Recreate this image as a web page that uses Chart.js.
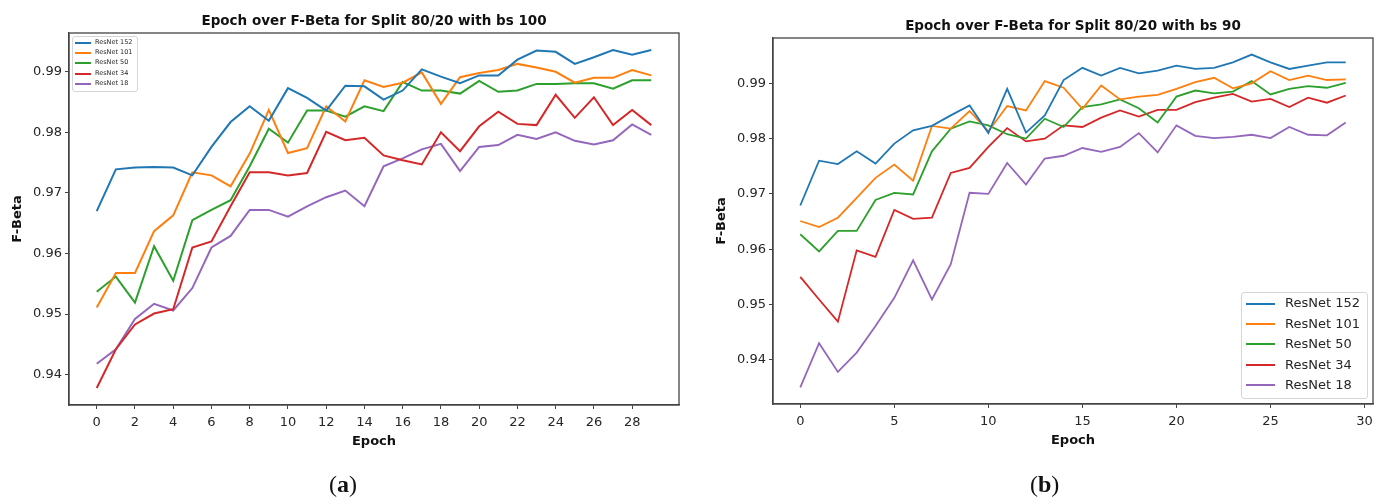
<!DOCTYPE html>
<html>
<head>
<meta charset="utf-8">
<script src="https://cdn.jsdelivr.net/npm/chart.js@4"></script>
<style>
body { margin: 0; background: #fff; width: 1386px; height: 497px; overflow: hidden; position: relative; font-family: "DejaVu Sans", sans-serif; }
canvas { position: absolute; top: 0; }
#chartA { left: 0; }
#chartB { left: 696px; }
.legend { position: absolute; background: rgba(255,255,255,0.85); border: 1px solid #d6d6d6; border-radius: 3px; color: #262626; }
.legend .swatch { position: absolute; }
.legend .txt { position: absolute; white-space: nowrap; }
.caption { position: absolute; top: 471px; font-family: "Liberation Serif", serif; font-size: 24px; color: #111; }
.caption b { font-weight: bold; }
</style>
</head>
<body>
<canvas id="chartA" width="690" height="497"></canvas>
<canvas id="chartB" width="690" height="497"></canvas>
<div id="legendA" class="legend" style="left:72px; top:36px; width:64px; height:54px;"></div>
<div id="legendB" class="legend" style="left:1241px; top:292px; width:125px; height:105px;"></div>
<div class="caption" style="left:329px;">(<b>a</b>)</div>
<div class="caption" style="left:1030px;">(<b>b</b>)</div>
<script>
// series
var epochs = [0, 1, 2, 3, 4, 5, 6, 7, 8, 9, 10, 11, 12, 13, 14, 15, 16, 17, 18, 19, 20, 21, 22, 23, 24, 25, 26, 27, 28, 29];
var seriesNames = ["ResNet 152", "ResNet 101", "ResNet 50", "ResNet 34", "ResNet 18"];

var xTicksA = [0, 2, 4, 6, 8, 10, 12, 14, 16, 18, 20, 22, 24, 26, 28];
var xTicksB = [0, 5, 10, 15, 20, 25, 30];
var yTicks = [0.94, 0.95, 0.96, 0.97, 0.98, 0.99];

// (a) bs 100
var a152 = [0.9670, 0.9739, 0.9742, 0.9743, 0.9742, 0.9729, 0.9776, 0.9817, 0.9843, 0.9819, 0.9873, 0.9857, 0.9836, 0.9877, 0.9876, 0.9854, 0.9869, 0.9904, 0.9892, 0.9881, 0.9894, 0.9894, 0.9920, 0.9935, 0.9933, 0.9913, 0.9924, 0.9936, 0.9928, 0.9936];
var a101 = [0.9511, 0.9568, 0.9568, 0.9637, 0.9663, 0.9734, 0.9729, 0.9711, 0.9765, 0.9837, 0.9766, 0.9774, 0.9843, 0.9818, 0.9886, 0.9875, 0.9882, 0.9899, 0.9847, 0.9891, 0.9898, 0.9903, 0.9913, 0.9907, 0.9900, 0.9882, 0.9890, 0.9890, 0.9903, 0.9894];
var a50 = [0.9537, 0.9562, 0.9519, 0.9612, 0.9555, 0.9655, 0.9672, 0.9688, 0.9744, 0.9806, 0.9783, 0.9836, 0.9836, 0.9826, 0.9843, 0.9835, 0.9883, 0.9869, 0.9869, 0.9864, 0.9885, 0.9867, 0.9869, 0.9880, 0.9880, 0.9881, 0.9881, 0.9872, 0.9886, 0.9886];
var a34 = [0.9378, 0.9442, 0.9483, 0.9501, 0.9508, 0.9610, 0.9620, 0.9678, 0.9734, 0.9734, 0.9729, 0.9733, 0.9801, 0.9787, 0.9791, 0.9762, 0.9754, 0.9747, 0.9800, 0.9769, 0.9810, 0.9834, 0.9814, 0.9812, 0.9862, 0.9824, 0.9858, 0.9812, 0.9837, 0.9812];
var a18 = [0.9418, 0.9442, 0.9492, 0.9517, 0.9506, 0.9543, 0.9610, 0.9629, 0.9672, 0.9672, 0.9661, 0.9678, 0.9693, 0.9704, 0.9678, 0.9744, 0.9757, 0.9772, 0.9781, 0.9736, 0.9776, 0.9779, 0.9796, 0.9789, 0.9800, 0.9786, 0.9780, 0.9787, 0.9813, 0.9796];

// (b) bs 90
var b152 = [0.9679, 0.9760, 0.9754, 0.9777, 0.9755, 0.9791, 0.9815, 0.9823, 0.9842, 0.9860, 0.9810, 0.9890, 0.9811, 0.9842, 0.9906, 0.9928, 0.9914, 0.9928, 0.9918, 0.9923, 0.9932, 0.9926, 0.9928, 0.9938, 0.9952, 0.9938, 0.9926, 0.9932, 0.9938, 0.9938];
var b101 = [0.9651, 0.9640, 0.9657, 0.9693, 0.9729, 0.9753, 0.9724, 0.9823, 0.9818, 0.9850, 0.9813, 0.9859, 0.9851, 0.9904, 0.9892, 0.9854, 0.9896, 0.9871, 0.9876, 0.9879, 0.9890, 0.9902, 0.9910, 0.9891, 0.9900, 0.9922, 0.9906, 0.9914, 0.9906, 0.9907];
var b50 = [0.9627, 0.9596, 0.9633, 0.9633, 0.9689, 0.9702, 0.9699, 0.9777, 0.9818, 0.9831, 0.9824, 0.9808, 0.9800, 0.9836, 0.9821, 0.9857, 0.9862, 0.9871, 0.9855, 0.9829, 0.9876, 0.9887, 0.9882, 0.9885, 0.9904, 0.9880, 0.9890, 0.9895, 0.9892, 0.9901];
var b34 = [0.9550, 0.9509, 0.9469, 0.9598, 0.9586, 0.9671, 0.9655, 0.9657, 0.9738, 0.9747, 0.9785, 0.9819, 0.9795, 0.9800, 0.9824, 0.9821, 0.9838, 0.9851, 0.9840, 0.9852, 0.9852, 0.9866, 0.9874, 0.9881, 0.9867, 0.9872, 0.9857, 0.9874, 0.9865, 0.9878];
var b18 = [0.9350, 0.9430, 0.9378, 0.9413, 0.9461, 0.9512, 0.9580, 0.9509, 0.9573, 0.9702, 0.9700, 0.9756, 0.9717, 0.9764, 0.9769, 0.9783, 0.9776, 0.9785, 0.9810, 0.9775, 0.9824, 0.9805, 0.9801, 0.9803, 0.9807, 0.9801, 0.9821, 0.9807, 0.9806, 0.9829];

var seriesColors = ["#1f77b4", "#ff7f0e", "#2ca02c", "#d62728", "#9467bd"];
var textColor = "#262626";
var frameColor = "#444";

// matplotlib draws a box round the axes, chart.js only the axis lines
var framePlugin = {
    id: "frame",
    afterDatasetsDraw: function(chart) {
        var a = chart.chartArea;
        var ctx = chart.ctx;
        ctx.save();
        ctx.strokeStyle = frameColor;
        ctx.lineWidth = 1.3;
        ctx.strokeRect(a.left, a.top, a.right - a.left, a.bottom - a.top);
        ctx.restore();
    }
};

function toPoints(values) {
    var pts = [];
    for (var i = 0; i < values.length; i++) {
        pts.push({x: epochs[i], y: values[i]});
    }
    return pts;
}

function makeChart(canvasId, opt) {
    var datasets = [];
    for (var i = 0; i < opt.series.length; i++) {
        datasets.push({
            label: seriesNames[i],
            data: toPoints(opt.series[i]),
            borderColor: seriesColors[i],
            backgroundColor: seriesColors[i],
            borderWidth: opt.lineWidth,
            pointRadius: 0,
            tension: 0,
            fill: false
        });
    }
    var tickFont = {family: "DejaVu Sans", size: 13};
    var labelFont = {family: "DejaVu Sans", size: 13, weight: "bold"};
    var titleFont = {family: "DejaVu Sans", size: 13.5, weight: "bold"};
    return new Chart(document.getElementById(canvasId), {
        type: "line",
        data: {datasets: datasets},
        options: {
            responsive: false,
            animation: false,
            devicePixelRatio: 1,
            layout: {padding: {left: 0, top: 0, right: opt.padRight, bottom: opt.padBottom}},
            plugins: {
                legend: {display: false},
                tooltip: {enabled: false},
                title: {
                    display: true,
                    text: opt.title,
                    fullSize: false,
                    color: "#111",
                    font: titleFont,
                    padding: {top: opt.titleTop, bottom: opt.titleBottom}
                }
            },
            scales: {
                x: {
                    type: "linear",
                    min: -1.45,
                    max: 30.45,
                    afterBuildTicks: function(scale) {
                        scale.ticks = opt.xTicks.map(function(v) { return {value: v}; });
                    },
                    afterFit: function(scale) { scale.height = opt.xHeight; },
                    grid: {display: true, drawOnChartArea: false, drawTicks: true, tickLength: 4, color: frameColor},
                    border: {display: true, color: frameColor, width: 1.3},
                    ticks: {color: textColor, font: tickFont, padding: 6, maxRotation: 0, autoSkip: false,
                        callback: function(v) { return String(v); }},
                    title: {display: true, text: "Epoch", color: "#111", font: labelFont,
                        padding: {top: 0, bottom: opt.xTitlePad}}
                },
                y: {
                    type: "linear",
                    min: opt.yMin,
                    max: opt.yMax,
                    afterBuildTicks: function(scale) {
                        scale.ticks = yTicks.map(function(v) { return {value: v}; });
                    },
                    afterFit: function(scale) { scale.width = opt.yWidth; },
                    grid: {display: true, drawOnChartArea: false, drawTicks: true, tickLength: 4, color: frameColor},
                    border: {display: true, color: frameColor, width: 1.3},
                    ticks: {color: textColor, font: tickFont, padding: 3,
                        callback: function(v) { return v.toFixed(2); }},
                    title: {display: true, text: "F-Beta", color: "#111", font: labelFont,
                        padding: {top: opt.yTitlePad, bottom: 0}}
                }
            }
        },
        plugins: [framePlugin]
    });
}

function buildLegend(elId, o) {
    var el = document.getElementById(elId);
    var html = "";
    for (var i = 0; i < seriesNames.length; i++) {
        var y = o.firstRow + i * o.rowGap;
        html += "<div class=\"swatch\" style=\"left:" + o.lineLeft + "px;top:" + Math.round(y - o.lineWidth / 2) + "px;width:"
              + o.lineLen + "px;height:" + o.lineWidth + "px;background:" + seriesColors[i] + ";\"></div>";
        html += "<div class=\"txt\" style=\"left:" + o.textLeft + "px;top:" + Math.round(y - o.fontSize * 0.62) + "px;font-size:"
              + o.fontSize + "px;line-height:" + (o.fontSize * 1.2) + "px;\">" + seriesNames[i] + "</div>";
    }
    el.innerHTML = html;
}

makeChart("chartA", {
    series: [a152, a101, a50, a34, a18],
    title: "Epoch over F-Beta for Split 80/20 with bs 100",
    titleTop: 13, titleBottom: 3.8,
    xTicks: xTicksA,
    yMin: 0.9350, yMax: 0.9964,
    padRight: 11, padBottom: 40,
    yWidth: 69, xHeight: 52,
    yTitlePad: 10, xTitlePad: 8,
    lineWidth: 2
});

makeChart("chartB", {
    series: [b152, b101, b50, b34, b18],
    title: "Epoch over F-Beta for Split 80/20 with bs 90",
    titleTop: 18, titleBottom: 3.8,
    xTicks: xTicksB,
    yMin: 0.9320, yMax: 0.9982,
    padRight: 13, padBottom: 41,
    yWidth: 77, xHeight: 52,
    yTitlePad: 18, xTitlePad: 8,
    lineWidth: 1.8
});

buildLegend("legendA", {firstRow: 6, rowGap: 10.2, lineLeft: 2, lineLen: 16, lineWidth: 2, textLeft: 22, fontSize: 6.5});
buildLegend("legendB", {firstRow: 10.5, rowGap: 20.4, lineLeft: 4, lineLen: 29, lineWidth: 2, textLeft: 43, fontSize: 13});
</script>
</body>
</html>
